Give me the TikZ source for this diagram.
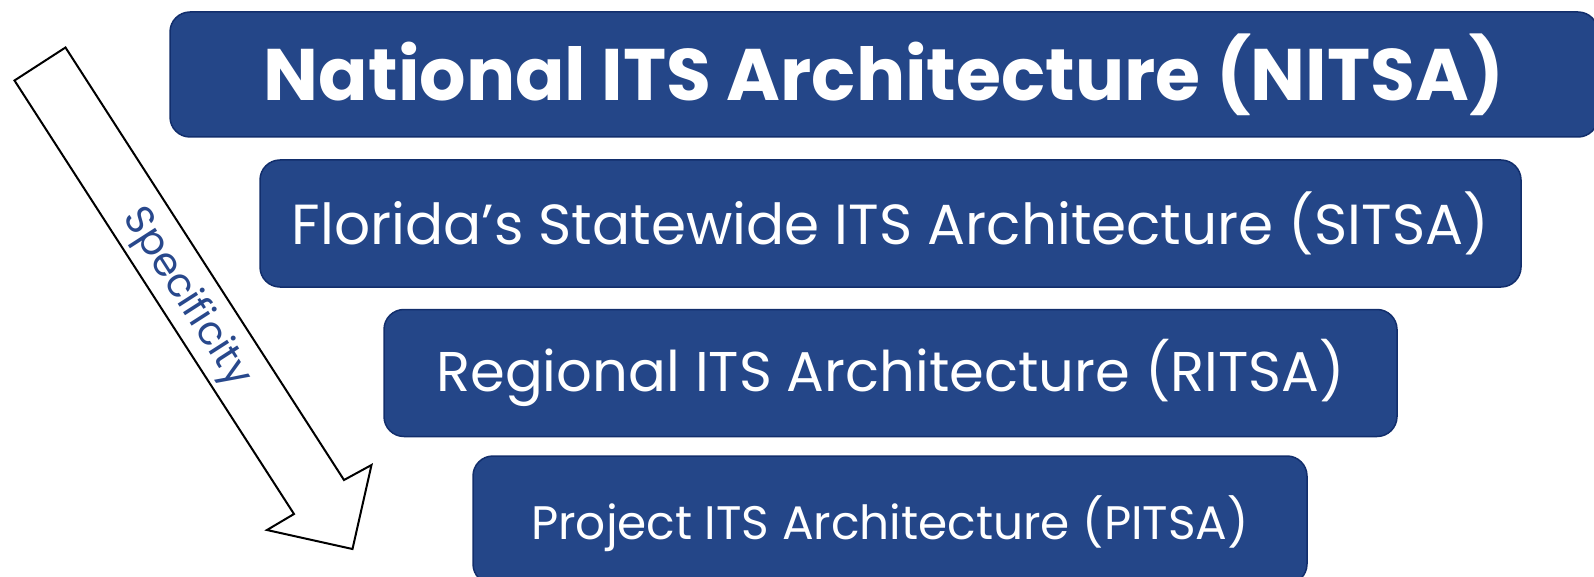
\documentclass[tikz,border=0pt]{standalone}
\usepackage{fontspec}
\setmainfont{Poppins}
\definecolor{boxfill}{RGB}{36,70,136}
\definecolor{boxline}{RGB}{18,46,108}
\definecolor{spectext}{RGB}{40,72,140}
\tikzset{
  archbox/.style={draw=boxline, line width=1.5pt, fill=boxfill, rounded corners=20pt,
    text=white, inner sep=0pt, align=center},
}
\begin{document}
\begin{tikzpicture}[x=1pt,y=-1pt]
\useasboundingbox (0,0) rectangle (1594,577);
\begin{scope}
\clip (0,0) rectangle (1594,577);
\node[archbox, minimum width=1428pt, minimum height=125pt, font=\fontsize{73}{88}\selectfont\bfseries] (nitsa) at (884,74.5) {National ITS Architecture (NITSA)};
\node[archbox, minimum width=1261pt, minimum height=127pt, font=\fontsize{56.5}{68}\selectfont] (sitsa) at (890.5,223.5) {Florida’s Statewide ITS Architecture (SITSA)};
\node[archbox, minimum width=1013pt, minimum height=127pt, font=\fontsize{56}{68}\selectfont] (ritsa) at (890.5,373) {Regional ITS Architecture (RITSA)};
\node[archbox, minimum width=834pt, minimum height=128pt] (pitsa) at (890,520) {};
\node[text=white, inner sep=0pt, font=\fontsize{47}{56}\selectfont] (pitsatext) at (890,524) {Project ITS Architecture (PITSA)};
\end{scope}
\draw[line width=2pt, fill=white, line join=miter]
  (14.5,80.5) coordinate (a1) -- (65.5,47.5) coordinate (a2) -- (344,480) coordinate (a3)
  -- (371.5,465) coordinate (a4) -- (352.5,549) coordinate (tip) -- (267,530) coordinate (a6)
  -- (294,514) coordinate (a7) -- cycle;
\node[text=spectext, rotate=-57.3, inner sep=0pt, font=\fontsize{40}{48}\selectfont] (spec) at (186,298) {Specificity};
\end{tikzpicture}
\end{document}
